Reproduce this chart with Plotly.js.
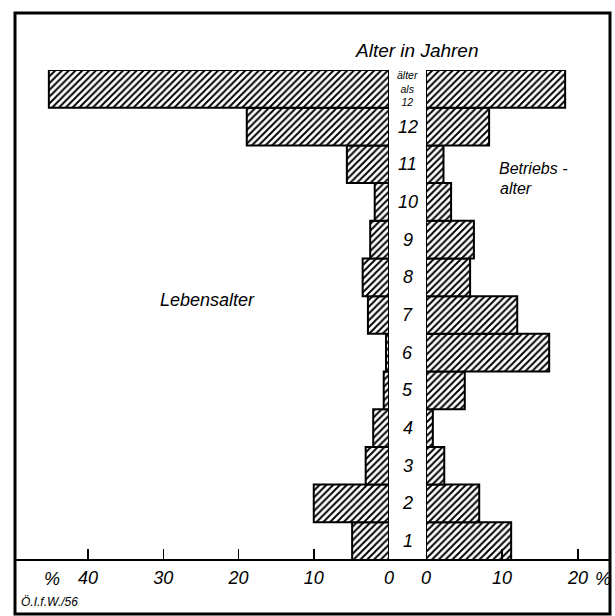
<!DOCTYPE html>
<html>
<head>
<meta charset="utf-8">
<script src="https://cdn.plot.ly/plotly-3.0.1.min.js"></script>
<style>html,body{margin:0;padding:0;background:#fff;}#chart{width:615px;height:616px;}</style>
</head>
<body>
<div id="chart"></div>
<script>
// Data
var categories = ["1","2","3","4","5","6","7","8","9","10","11","12","älter als 12"];
var categoryLabels = ["1","2","3","4","5","6","7","8","9","10","11","12","älter<br>als<br>12"];
var lebensalter = [4.9, 10.0, 3.1, 2.1, 0.7, 0.4, 2.8, 3.5, 2.5, 1.9, 5.6, 18.9, 45.2];
var betriebsalter = [11.2, 7.0, 2.4, 0.9, 5.1, 16.2, 12.0, 5.8, 6.3, 3.3, 2.3, 8.3, 18.3];
var leftTickVals = [0, 10, 20, 30, 40];
var leftTickText = ["0", "10", "20", "30", "40"];
var rightTickVals = [0, 10, 20];
var rightTickText = ["0", "10", "20"];

var W = 615, H = 616;
var px = function(v){ return v / W; };
var py = function(v){ return (H - v) / H; };

var FONT = "Liberation Sans, Arial, sans-serif";
var pattern = {shape: "/", fgcolor: "black", bgcolor: "white", size: 4.8, solidity: 0.4};

var traces = [
  {type: "bar", orientation: "h", x: lebensalter, y: categories, xaxis: "x", yaxis: "y",
   marker: {color: "white", line: {color: "black", width: 2}, pattern: pattern}, hoverinfo: "x+y"},
  {type: "bar", orientation: "h", x: betriebsalter, y: categories, xaxis: "x2", yaxis: "y2",
   marker: {color: "white", line: {color: "black", width: 2}, pattern: pattern}, hoverinfo: "x+y"}
];

var yDomain = [py(560), py(70)];
var tickFont = {family: FONT, size: 18, color: "black", style: "italic"};

function ann(x, y, text, size, extra){
  var a = {x: px(x), y: py(y), xref: "paper", yref: "paper", text: text, showarrow: false,
           xanchor: "center", yanchor: "middle",
           font: {family: FONT, size: size, color: "black", style: "italic"}};
  for (var k in (extra || {})) a[k] = extra[k];
  return a;
}

var annotations = categories.map(function(c, i){
  var top = (i === categories.length - 1);
  return {x: px(407.5), xref: "paper", y: i, yref: "y", text: categoryLabels[i], showarrow: false,
          xanchor: "center", yanchor: "middle",
          font: {family: FONT, size: top ? 10.5 : 18, color: "black", style: "italic"}};
});
annotations.push(
  ann(417, 50, "Alter in Jahren", 19),
  ann(207, 300, "Lebensalter", 18),
  ann(533, 168, "Betriebs -", 16),
  ann(516, 188, "alter", 16),
  ann(52, 579, "%", 18),
  ann(603, 579, "%", 18),
  ann(19, 602, "Ö.I.f.W./56", 12, {xanchor: "left"})
);

var layout = {
  width: W, height: H,
  margin: {l: 0, r: 0, t: 0, b: 0},
  paper_bgcolor: "white", plot_bgcolor: "rgba(0,0,0,0)",
  showlegend: false,
  bargap: 0,
  xaxis: {domain: [px(15), px(389)], range: [49.7, 0], showgrid: false, zeroline: false,
          ticks: "inside", ticklen: 11, tickwidth: 1.5, tickcolor: "black", ticklabelstandoff: 5,
          tickvals: leftTickVals, ticktext: leftTickText, tickfont: tickFont, anchor: "y", fixedrange: true},
  xaxis2: {domain: [px(426), px(610)], range: [0, 24.2], showgrid: false, zeroline: false,
           ticks: "inside", ticklen: 11, tickwidth: 1.5, tickcolor: "black", ticklabelstandoff: 5,
           tickvals: rightTickVals, ticktext: rightTickText, tickfont: tickFont, anchor: "y2", fixedrange: true},
  yaxis: {domain: yDomain, type: "category", categoryorder: "array", categoryarray: categories,
          range: [-0.5, 12.5], showticklabels: false, showgrid: false, zeroline: false, ticks: "", anchor: "x", fixedrange: true},
  yaxis2: {domain: yDomain, type: "category", categoryorder: "array", categoryarray: categories,
           range: [-0.5, 12.5], showticklabels: false, showgrid: false, zeroline: false, ticks: "", anchor: "x2", fixedrange: true},
  annotations: annotations,
  shapes: [
    {type: "rect", xref: "paper", yref: "paper", x0: px(15), x1: px(610), y0: py(614), y1: py(13),
     line: {color: "black", width: 3}},
    {type: "line", xref: "paper", yref: "paper", x0: px(15), x1: px(610), y0: py(560), y1: py(560),
     line: {color: "black", width: 2}}
  ]
};

Plotly.newPlot("chart", traces, layout, {displayModeBar: false, staticPlot: true});
</script>
</body>
</html>
